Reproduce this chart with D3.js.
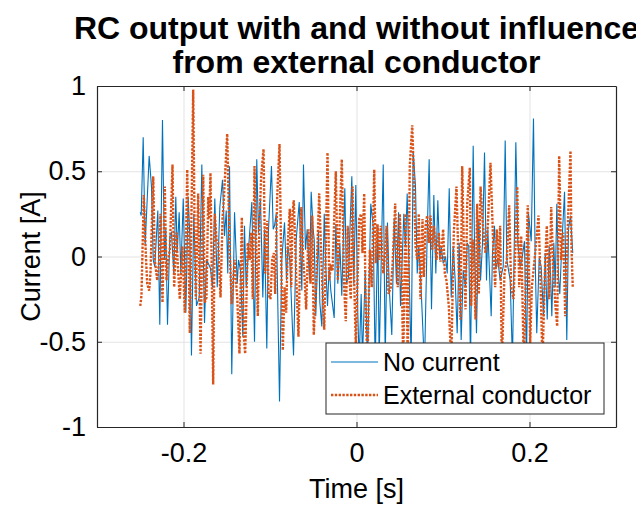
<!DOCTYPE html>
<html>
<head>
<meta charset="utf-8">
<script src="https://cdn.jsdelivr.net/npm/d3@7"></script>
<style>
  body { margin: 0; background: #fff; }
  text { font-family: "Liberation Sans", Arial, Helvetica, sans-serif; fill: #000; }
</style>
</head>
<body>
<div id="container"></div>
<script>
/* DATA */
// [time (s), current (A)]
const noCurrent = [[-0.2500,0.26],[-0.2489,0.24],[-0.2466,0.70],[-0.2443,0.07],[-0.2397,0.59],[-0.2370,0.41],[-0.2350,-0.02],[-0.2332,-0.06],[-0.2297,0.27],[-0.2274,-0.40],[-0.2243,0.80],[-0.2220,-0.02],[-0.2205,0.16],[-0.2185,-0.40],[-0.2158,0.12],[-0.2139,0.14],[-0.2112,-0.10],[-0.2089,0.35],[-0.2073,0.02],[-0.2050,0.26],[-0.2031,-0.10],[-0.2003,0.34],[-0.1973,-0.33],[-0.1946,0.35],[-0.1927,0.12],[-0.1908,-0.58],[-0.1881,0.25],[-0.1850,-0.29],[-0.1818,-0.24],[-0.1788,0.54],[-0.1757,-0.39],[-0.1734,-0.02],[-0.1714,-0.04],[-0.1688,-0.07],[-0.1665,-0.18],[-0.1638,0.34],[-0.1610,-0.18],[-0.1580,0.29],[-0.1549,0.45],[-0.1526,0.12],[-0.1506,0.27],[-0.1488,-0.10],[-0.1468,0.53],[-0.1442,-0.69],[-0.1410,0.26],[-0.1379,-0.16],[-0.1364,-0.02],[-0.1341,-0.08],[-0.1314,-0.47],[-0.1295,0.18],[-0.1275,-0.18],[-0.1249,0.04],[-0.1210,0.32],[-0.1179,-0.50],[-0.1153,0.57],[-0.1133,0.14],[-0.1110,0.34],[-0.1083,-0.24],[-0.1064,0.16],[-0.1037,-0.54],[-0.1017,0.16],[-0.0983,0.53],[-0.0963,0.16],[-0.0948,0.18],[-0.0928,0.25],[-0.0890,-0.85],[-0.0864,-0.02],[-0.0832,0.20],[-0.0809,-0.14],[-0.0794,0.06],[-0.0771,-0.02],[-0.0728,-0.58],[-0.0697,0.10],[-0.0662,0.32],[-0.0632,-0.20],[-0.0613,0.54],[-0.0590,0.04],[-0.0570,0.16],[-0.0543,-0.14],[-0.0524,0.38],[-0.0501,0.16],[-0.0489,0.10],[-0.0471,-0.35],[-0.0439,0.15],[-0.0424,-0.27],[-0.0401,-0.41],[-0.0373,0.25],[-0.0355,-0.06],[-0.0335,-0.29],[-0.0316,-0.06],[-0.0297,-0.20],[-0.0258,-0.36],[-0.0239,0.19],[-0.0216,-0.16],[-0.0193,0.08],[-0.0170,-0.23],[-0.0135,0.40],[-0.0116,-0.16],[-0.0092,-0.12],[-0.0077,0.14],[-0.0054,0.47],[-0.0031,-0.16],[-0.0008,0.42],[0.0015,-0.33],[0.0031,-0.62],[0.0054,-0.22],[0.0069,-0.60],[0.0101,-0.09],[0.0127,-0.62],[0.0165,0.31],[0.0193,0.18],[0.0216,-0.65],[0.0246,0.18],[0.0262,-0.60],[0.0309,0.54],[0.0332,-0.60],[0.0358,0.20],[0.0378,-0.18],[0.0408,-0.46],[0.0436,0.22],[0.0462,-0.16],[0.0486,0.26],[0.0509,-0.29],[0.0547,0.25],[0.0566,0.06],[0.0586,0.37],[0.0605,-0.02],[0.0632,-0.62],[0.0655,0.62],[0.0682,0.41],[0.0702,-0.10],[0.0720,0.06],[0.0748,-0.20],[0.0786,-0.65],[0.0817,0.12],[0.0840,0.57],[0.0867,-0.31],[0.0894,0.36],[0.0917,-0.10],[0.0940,0.33],[0.0963,-0.02],[0.0979,0.06],[0.1002,-0.04],[0.1029,0.00],[0.1049,-0.10],[0.1072,0.40],[0.1095,-0.24],[0.1118,0.06],[0.1141,-0.14],[0.1164,-0.45],[0.1187,0.08],[0.1210,-0.49],[0.1234,-0.08],[0.1260,-0.18],[0.1280,0.08],[0.1298,0.06],[0.1318,-0.62],[0.1349,0.65],[0.1364,0.08],[0.1387,-0.45],[0.1414,0.22],[0.1434,-0.14],[0.1457,0.08],[0.1480,0.61],[0.1503,-0.14],[0.1518,0.16],[0.1557,-0.35],[0.1572,0.02],[0.1595,0.18],[0.1610,-0.07],[0.1634,-0.02],[0.1661,-0.14],[0.1696,-0.06],[0.1719,0.68],[0.1738,-0.02],[0.1777,-0.14],[0.1803,-0.62],[0.1842,0.67],[0.1865,0.08],[0.1892,-0.06],[0.1911,-0.02],[0.1942,0.09],[0.1965,-0.62],[0.1988,0.25],[0.2020,0.09],[0.2046,0.81],[0.2066,-0.02],[0.2084,-0.45],[0.2112,-0.01],[0.2135,-0.06],[0.2162,-0.35],[0.2182,0.02],[0.2205,-0.37],[0.2228,0.06],[0.2243,-0.10],[0.2258,-0.35],[0.2281,0.08],[0.2297,-0.18],[0.2316,0.31],[0.2335,-0.12],[0.2350,-0.22],[0.2373,0.06],[0.2405,0.38],[0.2431,-0.49],[0.2451,0.16],[0.2474,0.24],[0.2500,0.02]];

const externalConductor = [[-0.2500,-0.29],[-0.2486,-0.23],[-0.2459,0.36],[-0.2436,0.02],[-0.2420,-0.16],[-0.2397,-0.20],[-0.2382,-0.10],[-0.2350,0.47],[-0.2332,-0.02],[-0.2304,-0.14],[-0.2281,-0.02],[-0.2266,0.25],[-0.2243,-0.27],[-0.2216,0.41],[-0.2197,-0.14],[-0.2177,-0.02],[-0.2158,0.04],[-0.2127,0.54],[-0.2108,-0.18],[-0.2081,0.14],[-0.2069,-0.02],[-0.2043,-0.25],[-0.2012,0.06],[-0.1985,-0.33],[-0.1957,0.51],[-0.1946,0.18],[-0.1927,-0.45],[-0.1888,0.98],[-0.1869,0.02],[-0.1858,-0.25],[-0.1830,0.37],[-0.1803,-0.57],[-0.1772,0.48],[-0.1754,-0.27],[-0.1734,-0.24],[-0.1714,0.35],[-0.1703,0.22],[-0.1688,0.49],[-0.1657,-0.75],[-0.1638,0.25],[-0.1618,0.10],[-0.1599,0.08],[-0.1572,-0.24],[-0.1549,0.22],[-0.1534,0.33],[-0.1495,0.72],[-0.1468,0.06],[-0.1442,-0.28],[-0.1410,-0.02],[-0.1379,-0.24],[-0.1353,-0.57],[-0.1326,0.23],[-0.1303,-0.47],[-0.1287,-0.57],[-0.1257,0.08],[-0.1234,-0.02],[-0.1217,0.14],[-0.1199,-0.25],[-0.1179,0.53],[-0.1156,-0.02],[-0.1141,-0.35],[-0.1121,0.22],[-0.1102,0.47],[-0.1075,0.63],[-0.1055,-0.10],[-0.1032,0.21],[-0.1017,-0.22],[-0.0994,-0.25],[-0.0975,-0.02],[-0.0956,0.02],[-0.0940,-0.22],[-0.0917,0.35],[-0.0890,0.66],[-0.0871,0.00],[-0.0852,-0.55],[-0.0832,-0.18],[-0.0813,-0.33],[-0.0794,0.08],[-0.0771,0.28],[-0.0755,-0.18],[-0.0740,0.25],[-0.0725,0.33],[-0.0697,-0.12],[-0.0671,-0.47],[-0.0639,0.29],[-0.0616,-0.02],[-0.0601,-0.12],[-0.0582,-0.31],[-0.0555,0.16],[-0.0532,-0.16],[-0.0512,0.24],[-0.0494,-0.46],[-0.0462,-0.10],[-0.0431,0.37],[-0.0401,-0.10],[-0.0373,-0.43],[-0.0335,0.61],[-0.0316,-0.14],[-0.0297,-0.06],[-0.0277,-0.08],[-0.0239,0.50],[-0.0216,-0.14],[-0.0193,0.22],[-0.0170,0.57],[-0.0142,-0.18],[-0.0124,-0.38],[-0.0101,0.18],[-0.0084,-0.10],[-0.0066,-0.25],[-0.0046,0.41],[-0.0027,-0.14],[-0.0008,-0.52],[0.0031,0.22],[0.0054,0.25],[0.0069,0.02],[0.0089,0.37],[0.0108,-0.37],[0.0127,-0.60],[0.0154,0.04],[0.0177,-0.18],[0.0205,0.51],[0.0223,-0.04],[0.0243,0.19],[0.0262,-0.02],[0.0281,0.18],[0.0309,-0.10],[0.0332,0.02],[0.0347,0.18],[0.0370,-0.22],[0.0397,-0.18],[0.0416,-0.06],[0.0447,0.31],[0.0477,-0.18],[0.0501,0.25],[0.0524,-0.14],[0.0540,-0.62],[0.0566,0.25],[0.0593,-0.62],[0.0616,0.53],[0.0644,0.77],[0.0662,0.49],[0.0682,0.06],[0.0702,-0.02],[0.0720,0.25],[0.0740,-0.25],[0.0763,0.22],[0.0778,-0.12],[0.0798,0.18],[0.0817,0.24],[0.0836,0.08],[0.0855,0.24],[0.0875,0.04],[0.0894,0.18],[0.0925,-0.02],[0.0951,0.14],[0.0971,-0.03],[0.1002,0.16],[0.1021,-0.10],[0.1040,-0.14],[0.1067,-0.29],[0.1095,-0.62],[0.1125,0.14],[0.1156,0.41],[0.1179,-0.04],[0.1202,-0.37],[0.1222,0.53],[0.1240,0.08],[0.1260,-0.31],[0.1280,0.31],[0.1310,0.52],[0.1326,-0.29],[0.1349,0.10],[0.1376,-0.37],[0.1395,0.31],[0.1414,-0.22],[0.1434,0.41],[0.1465,0.16],[0.1491,0.02],[0.1518,0.18],[0.1549,0.55],[0.1584,0.02],[0.1603,-0.18],[0.1622,0.16],[0.1642,-0.06],[0.1661,0.18],[0.1680,-0.62],[0.1711,-0.10],[0.1738,-0.02],[0.1765,0.30],[0.1788,-0.18],[0.1815,-0.25],[0.1835,0.02],[0.1858,0.41],[0.1881,-0.18],[0.1904,0.12],[0.1934,-0.62],[0.1980,0.30],[0.2008,-0.51],[0.2027,-0.18],[0.2066,0.02],[0.2104,0.24],[0.2124,-0.08],[0.2150,-0.62],[0.2182,-0.02],[0.2200,0.18],[0.2228,-0.25],[0.2251,0.29],[0.2277,-0.10],[0.2297,-0.27],[0.2320,-0.41],[0.2343,0.59],[0.2366,-0.02],[0.2390,0.14],[0.2413,-0.35],[0.2443,0.18],[0.2474,0.62],[0.2485,0.06],[0.2500,-0.18]];

const xTicks = [-0.2, 0, 0.2];
const yTicks = [-1, -0.5, 0, 0.5, 1];
const seriesNames = ["No current", "External conductor"];
const titleLines = ["RC output with and without influence", "from external conductor"];

/* CONSTANTS */
const width = 636, height = 505;
const margin = { top: 86, right: 20, bottom: 78, left: 97 };
const blue = "#0072BD", orange = "#D95319", ink = "#262626";
const dotted = "2.4,1.4";

/* SCALES */
const xScale = d3.scaleLinear().domain([-0.3, 0.3]).range([margin.left, width - margin.right]);
const yScale = d3.scaleLinear().domain([-1, 1]).range([height - margin.bottom, margin.top]);
const plotW = width - margin.left - margin.right;
const plotH = height - margin.top - margin.bottom;

// SVG
const svg = d3.select("#container")
  .append("svg")
  .attr("width", width)
  .attr("height", height)
  .style("background-color", "white");

// grid
svg.append("g")
  .attr("transform", `translate(0,${height - margin.bottom})`)
  .call(d3.axisBottom(xScale).tickValues(xTicks).tickSize(-plotH).tickFormat(""))
  .call(g => g.select(".domain").remove())
  .call(g => g.selectAll("line").attr("stroke", "#e3e3e3"));
svg.append("g")
  .attr("transform", `translate(${margin.left},0)`)
  .call(d3.axisLeft(yScale).tickValues(yTicks).tickSize(-plotW).tickFormat(""))
  .call(g => g.select(".domain").remove())
  .call(g => g.selectAll("line").attr("stroke", "#e3e3e3"));

// lines
const line = d3.line().x(d => xScale(d[0])).y(d => yScale(d[1]));
svg.append("path")
  .datum(noCurrent)
  .attr("d", line)
  .attr("fill", "none")
  .attr("stroke", blue)
  .attr("stroke-width", 1.1);
svg.append("path")
  .datum(externalConductor)
  .attr("d", line)
  .attr("fill", "none")
  .attr("stroke", orange)
  .attr("stroke-width", 2.4)
  .attr("stroke-dasharray", dotted);

// axes (ticks point inward, box all round)
const fmt = d => String(d);
const styleAxis = g => {
  g.select(".domain").attr("stroke", ink).attr("stroke-width", 1.2);
  g.selectAll(".tick line").attr("stroke", ink);
  g.selectAll(".tick text").attr("fill", "#000")
    .style("font-size", "27px")
    .style("font-family", "Liberation Sans, Arial, sans-serif");
};
svg.append("g")
  .attr("transform", `translate(0,${height - margin.bottom})`)
  .call(d3.axisBottom(xScale).tickValues(xTicks).tickSizeInner(-5).tickSizeOuter(0).tickPadding(16).tickFormat(fmt))
  .call(styleAxis);
svg.append("g")
  .attr("transform", `translate(0,${margin.top})`)
  .call(d3.axisTop(xScale).tickValues(xTicks).tickSizeInner(-5).tickSizeOuter(0).tickFormat(""))
  .call(styleAxis);
svg.append("g")
  .attr("transform", `translate(${margin.left},0)`)
  .call(d3.axisLeft(yScale).tickValues(yTicks).tickSizeInner(-5).tickSizeOuter(0).tickPadding(11).tickFormat(fmt))
  .call(styleAxis);
svg.append("g")
  .attr("transform", `translate(${width - margin.right},0)`)
  .call(d3.axisRight(yScale).tickValues(yTicks).tickSizeInner(-5).tickSizeOuter(0).tickFormat(""))
  .call(styleAxis);

// axis labels
svg.append("text")
  .attr("x", (margin.left + width - margin.right) / 2)
  .attr("y", 498)
  .attr("text-anchor", "middle")
  .style("font-size", "27px")
  .text("Time [s]");
svg.append("text")
  .attr("transform", `translate(40,${(margin.top + height - margin.bottom) / 2}) rotate(-90)`)
  .attr("text-anchor", "middle")
  .style("font-size", "27px")
  .text("Current [A]");

// title (first line runs past the right edge, as in the source figure)
svg.append("g")
  .selectAll("text")
  .data(titleLines)
  .join("text")
  .attr("x", (margin.left + width - margin.right) / 2)
  .attr("y", (d, i) => 39 + i * 34)
  .attr("text-anchor", "middle")
  .style("font-size", "32px")
  .style("font-weight", "bold")
  .text(d => d);

// legend
const legend = svg.append("g").attr("transform", "translate(326,343)");
legend.append("rect")
  .attr("width", 278)
  .attr("height", 71)
  .attr("fill", "white")
  .attr("stroke", ink)
  .attr("stroke-width", 1);
const items = legend.selectAll("g.item")
  .data(seriesNames)
  .join("g")
  .attr("class", "item")
  .attr("transform", (d, i) => `translate(0,${19 + i * 33})`);
items.append("line")
  .attr("x1", 5).attr("x2", 52)
  .attr("stroke", (d, i) => i === 0 ? blue : orange)
  .attr("stroke-width", (d, i) => i === 0 ? 1.1 : 2.4)
  .attr("stroke-dasharray", (d, i) => i === 0 ? null : dotted);
items.append("text")
  .attr("x", 57)
  .attr("y", 9)
  .style("font-size", "25px")
  .text(d => d);
</script>
</body>
</html>
